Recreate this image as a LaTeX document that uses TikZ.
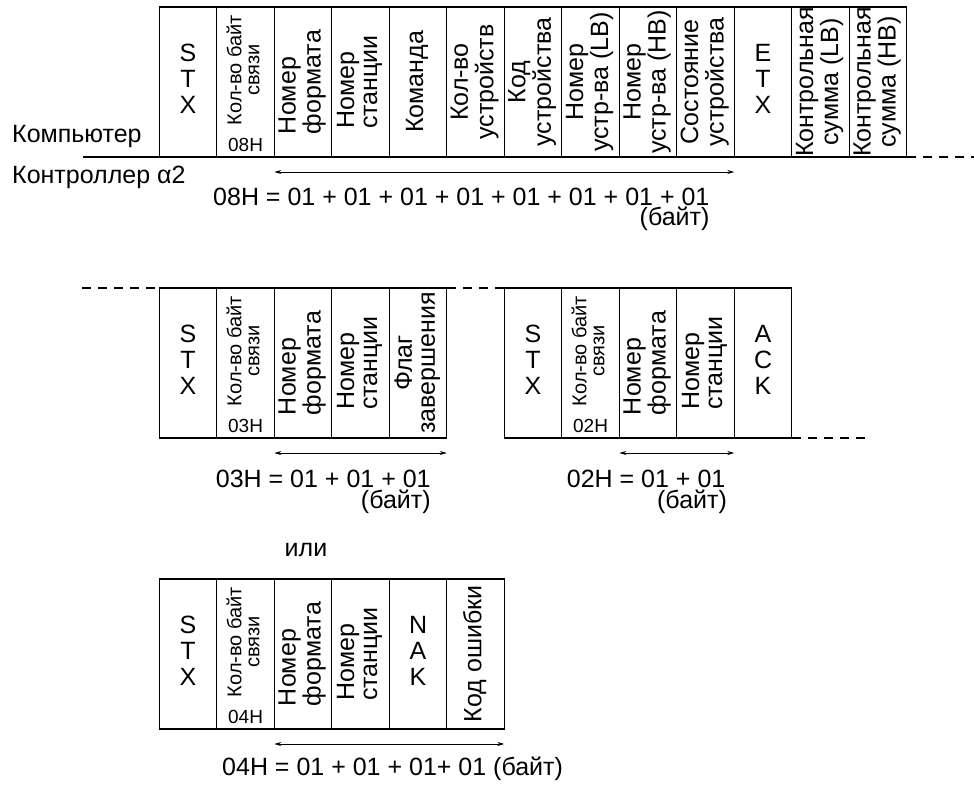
\documentclass[tikz,border=0pt]{standalone}
\usepackage{fontspec}
\setmainfont{Liberation Sans}
\usetikzlibrary{arrows.meta,calc}
\newcommand{\myvc}[1]{\rotatebox{90}{\begin{tabular}{@{}c@{}}#1\end{tabular}}}
\newcommand{\myvl}[1]{\rotatebox{90}{\begin{tabular}{@{}l@{}}#1\end{tabular}}}
\newcommand{\mystk}[1]{{\fontsize{25}{26}\selectfont\begin{tabular}{@{}c@{}}#1\end{tabular}}}
\newcommand{\mykol}{\rotatebox{90}{\hspace*{24pt}{\fontsize{20}{18}\selectfont\begin{tabular}{@{}c@{}}Кол-во байт\\связи\end{tabular}}}}
\begin{document}
\begin{tikzpicture}[x=1pt,y=-1pt,
  cell/.style={draw, line width=1.1pt, minimum width=57.5pt, minimum height=150pt,
    inner sep=0pt, outer sep=0pt, anchor=north west, font=\fontsize{25}{23}\selectfont},
  lbl/.style={inner sep=0pt, font=\fontsize{25}{25}\selectfont},
  hx/.style={inner sep=0pt, font=\fontsize{19}{19}\selectfont},
  solidline/.style={line width=1.1pt},
  dashline/.style={line width=1.1pt, dash pattern=on 9pt off 7pt},
  dim/.style={line width=0.8pt, {Stealth[length=7pt,width=4pt]}-{Stealth[length=7pt,width=4pt]}}
]
\useasboundingbox (0,0) rectangle (974,785);

% ---------- top row ----------
\node[cell] (t0) at (159.3,7) {\mystk{S\\T\\X}};
\node[cell] (t1) at (216.8,7) {\mykol};
\node[cell] (t2) at (274.3,7) {\myvl{Номер\\формата}};
\node[cell] (t3) at (331.8,7) {\myvl{Номер\\станции}};
\node[cell] (t4) at (389.3,7) {\myvc{Команда}};
\node[cell] (t5) at (446.8,7) {\myvc{Кол-во\\устройств}};
\node[cell] (t6) at (504.3,7) {\myvc{Код\\устройства}};
\node[cell] (t7) at (561.8,7) {\myvc{Номер\\устр-ва (LB)}};
\node[cell] (t8) at (619.3,7) {\myvc{Номер\\устр-ва (HB)}};
\node[cell] (t9) at (676.8,7) {\myvc{Состояние\\устройства}};
\node[cell] (t10) at (734.3,7) {\mystk{E\\T\\X}};
\node[cell] (t11) at (791.8,7) {\myvc{Контрольная\\сумма (LB)}};
\node[cell] (t12) at (849.3,7) {\myvc{Контрольная\\сумма (HB)}};
\node[hx] (h08) at ($(t1.south)+(0,-12)$) {08H};

\node[lbl, anchor=base west] (comp) at (12,142) {Компьютер};
\node[lbl, anchor=base west] (ctrl) at (12,183) {Контроллер α2};

\coordinate (tl) at (83,157);
\coordinate (tr) at (974,157);
\draw[solidline] (tl) -- (t0.south west);
\draw[dashline] (t12.south east) -- (tr);

\draw[dim] ($(t2.south west)+(0,15)$) -- ($(t9.south east)+(0,15)$);
\node[lbl, anchor=base west] (eq1) at (213,205) {08H = 01 + 01 + 01 + 01 + 01 + 01 + 01 + 01};
\node[lbl, anchor=base east] (b1) at ($(eq1.base east)+(0,20)$) {(байт)};

% ---------- middle rows ----------
\node[cell] (m0) at (159.3,288) {\mystk{S\\T\\X}};
\node[cell] (m1) at (216.8,288) {\mykol};
\node[cell] (m2) at (274.3,288) {\myvl{Номер\\формата}};
\node[cell] (m3) at (331.8,288) {\myvl{Номер\\станции}};
\node[cell] (m4) at (389.3,288) {\myvc{Флаг\\завершения}};
\node[hx] (h03) at ($(m1.south)+(0,-12)$) {03H};

\node[cell] (r0) at (504.3,288) {\mystk{S\\T\\X}};
\node[cell] (r1) at (561.8,288) {\mykol};
\node[cell] (r2) at (619.3,288) {\myvl{Номер\\формата}};
\node[cell] (r3) at (676.8,288) {\myvl{Номер\\станции}};
\node[cell] (r4) at (734.3,288) {\mystk{A\\C\\K}};
\node[hx] (h02) at ($(r1.south)+(0,-12)$) {02H};

\coordinate (ml) at (82,288);
\coordinate (rr) at (869,438);
\draw[dashline] (ml) -- (m0.north west);
\draw[dashline] (m4.north east) -- (r0.north west);
\draw[dashline] (r4.south east) -- (rr);

\draw[dim] ($(m2.south west)+(0,15)$) -- ($(m4.south east)+(0,15)$);
\node[lbl, anchor=base west] (eq2) at (215.7,487) {03H = 01 + 01 + 01};
\node[lbl, anchor=base east] (b2) at ($(eq2.base east)+(0,21)$) {(байт)};

\draw[dim] ($(r2.south west)+(0,15)$) -- ($(r3.south east)+(0,15)$);
\node[lbl, anchor=base west] (eq3) at (566.7,487) {02H = 01 + 01};
\node[lbl, anchor=base east] (b3) at ($(eq3.base east)+(1.5,21)$) {(байт)};

% ---------- bottom row ----------
\node[lbl, anchor=base] (ili) at (306,556) {или};
\node[cell] (b0) at (159.3,579) {\mystk{S\\T\\X}};
\node[cell] (bb1) at (216.8,579) {\mykol};
\node[cell] (bb2) at (274.3,579) {\myvl{Номер\\формата}};
\node[cell] (bb3) at (331.8,579) {\myvl{Номер\\станции}};
\node[cell] (bb4) at (389.3,579) {\mystk{N\\A\\K}};
\node[cell] (bb5) at (446.8,579) {\myvc{Код ошибки}};
\node[hx] (h04) at ($(bb1.south)+(0,-12)$) {04H};

\draw[dim] ($(bb2.south west)+(0,15)$) -- ($(bb5.south east)+(0,15)$);
\node[lbl, anchor=base west] (eq4) at (222,775) {04H = 01 + 01 + 01+ 01 (байт)};
\end{tikzpicture}
\end{document}
